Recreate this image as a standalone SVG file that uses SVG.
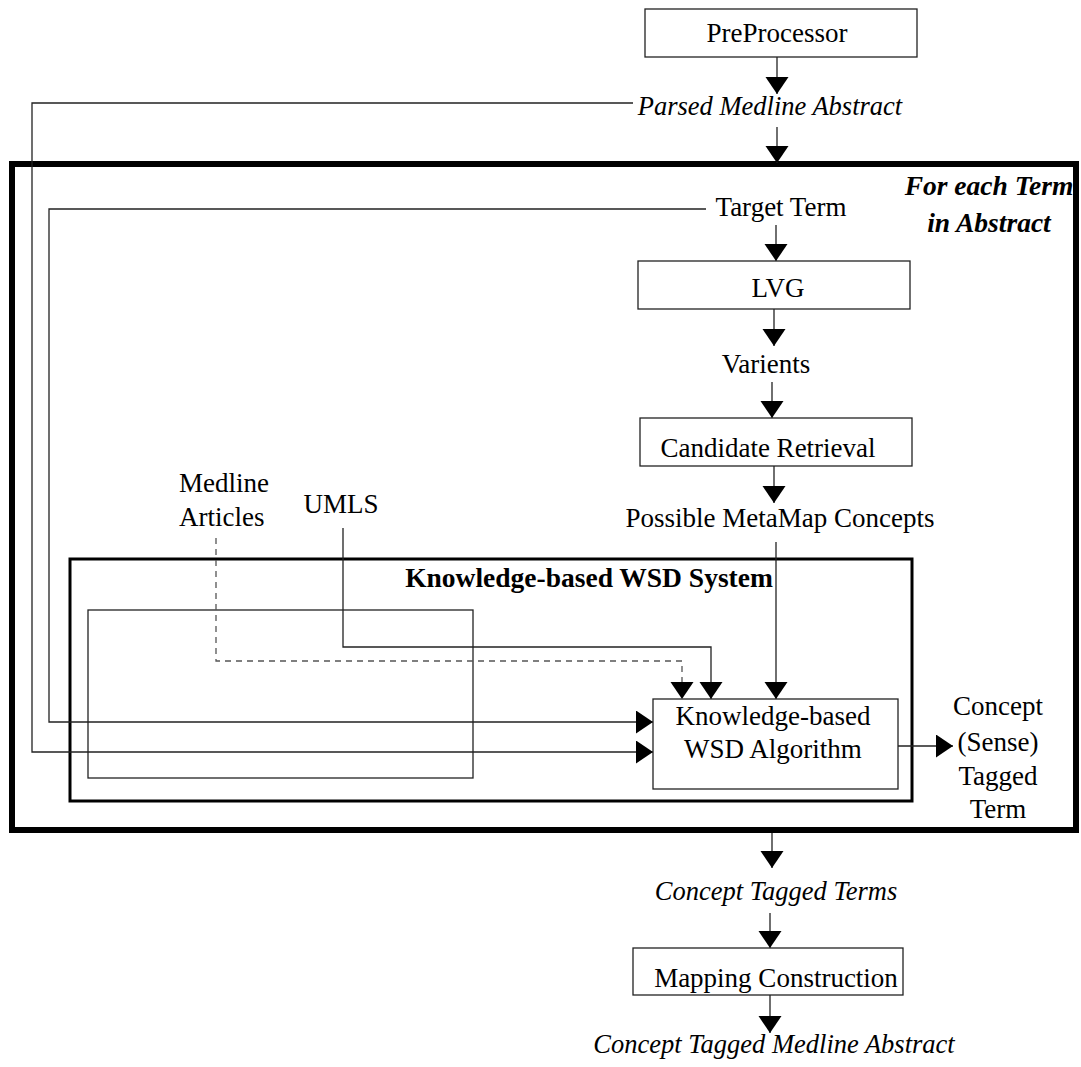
<svg xmlns="http://www.w3.org/2000/svg" width="1081" height="1067" viewBox="0 0 1081 1067">
  <style>
    text { font-family: "Liberation Serif", "Times New Roman", serif; font-size: 27px; fill: #000; }
    .c { text-anchor: middle; }
    .it { font-style: italic; font-size: 26.5px; }
    .bd { font-weight: bold; font-size: 27.5px; }
    .box { fill: #fff; stroke: #222; stroke-width: 1.3; }
    .frame { fill: none; stroke: #000; }
    .link { fill: none; stroke: #222; stroke-width: 1.3; }
    .dash { stroke: #555; stroke-dasharray: 6 5; }
  </style>
  <defs>
    <marker id="arrow" markerUnits="userSpaceOnUse" markerWidth="18" markerHeight="24" refX="17" refY="11.5" orient="auto">
      <path d="M0,0 L17,11.5 L0,23 z" fill="#000"/>
    </marker>
  </defs>

  <rect width="1081" height="1067" fill="#fff"/>

  <!-- loop frame: for each term in the abstract -->
  <g id="term-loop">
    <rect class="frame" x="12" y="164" width="1064" height="666" stroke-width="6"/>
    <text class="c it bd" x="989" y="195">For each Term</text>
    <text class="c it bd" x="989" y="232">in Abstract</text>
  </g>

  <!-- WSD system frame -->
  <g id="wsd-system">
    <rect class="frame" x="70" y="559" width="842" height="242" stroke-width="3"/>
    <text class="c bd" x="589" y="587">Knowledge-based WSD System</text>
  </g>

  <g id="inner-box">
    <rect x="88" y="610" width="385" height="168" fill="none" stroke="#222" stroke-width="1.3"/>
  </g>

  <g id="connectors">
    <line class="link" x1="777" y1="57" x2="777" y2="94" marker-end="url(#arrow)"/>
    <line class="link" x1="777" y1="127" x2="777" y2="163" marker-end="url(#arrow)"/>
    <line class="link" x1="776" y1="225" x2="776" y2="261" marker-end="url(#arrow)"/>
    <line class="link" x1="774" y1="309" x2="774" y2="346" marker-end="url(#arrow)"/>
    <line class="link" x1="772" y1="382" x2="772" y2="418" marker-end="url(#arrow)"/>
    <line class="link" x1="774" y1="466" x2="774" y2="503" marker-end="url(#arrow)"/>
    <line class="link" x1="776" y1="542" x2="776" y2="699" marker-end="url(#arrow)"/>
    <polyline class="link" points="343,528 343,647 711,647 711,699" marker-end="url(#arrow)"/>
    <polyline class="link dash" points="216,538 216,661 682,661 682,699" marker-end="url(#arrow)"/>
    <polyline class="link" points="706,209 49,209 49,722 653,722" marker-end="url(#arrow)"/>
    <polyline class="link" points="633,103 32,103 32,752 653,752" marker-end="url(#arrow)"/>
    <line class="link" x1="898" y1="746" x2="953" y2="746" marker-end="url(#arrow)"/>
    <line class="link" x1="772" y1="833" x2="772" y2="868" marker-end="url(#arrow)"/>
    <line class="link" x1="770" y1="913" x2="770" y2="948" marker-end="url(#arrow)"/>
    <line class="link" x1="770" y1="995" x2="770" y2="1033" marker-end="url(#arrow)"/>
  </g>

  <g id="preprocessor">
    <rect class="box" x="645" y="9" width="272" height="48"/>
    <text class="c" x="777" y="42">PreProcessor</text>
  </g>

  <g id="parsed-abstract">
    <text class="c it" x="770" y="115">Parsed Medline Abstract</text>
  </g>

  <g id="target-term">
    <text class="c" x="781" y="216">Target Term</text>
  </g>

  <g id="lvg">
    <rect class="box" x="638" y="261" width="272" height="48"/>
    <text class="c" x="778" y="297">LVG</text>
  </g>

  <g id="varients">
    <text class="c" x="766" y="373">Varients</text>
  </g>

  <g id="candidate-retrieval">
    <rect class="box" x="640" y="418" width="272" height="48"/>
    <text class="c" x="768" y="457">Candidate Retrieval</text>
  </g>

  <g id="metamap-concepts">
    <text class="c" x="780" y="527">Possible MetaMap Concepts</text>
  </g>

  <g id="medline-articles">
    <text x="179" y="492">Medline</text>
    <text x="179" y="526">Articles</text>
  </g>

  <g id="umls">
    <text class="c" x="341" y="513">UMLS</text>
  </g>

  <g id="wsd-algorithm">
    <rect class="box" x="653" y="699" width="245" height="90"/>
    <text class="c" x="773" y="725">Knowledge-based</text>
    <text class="c" x="773" y="758">WSD Algorithm</text>
  </g>

  <g id="tagged-term">
    <text class="c" x="998" y="715">Concept</text>
    <text class="c" x="998" y="751">(Sense)</text>
    <text class="c" x="998" y="785">Tagged</text>
    <text class="c" x="998" y="818">Term</text>
  </g>

  <g id="tagged-terms">
    <text class="c it" x="776" y="900">Concept Tagged Terms</text>
  </g>

  <g id="mapping-construction">
    <rect class="box" x="633" y="948" width="270" height="47"/>
    <text class="c" x="776" y="987">Mapping Construction</text>
  </g>

  <g id="tagged-abstract">
    <text class="c it" x="774" y="1053">Concept Tagged Medline Abstract</text>
  </g>
</svg>
